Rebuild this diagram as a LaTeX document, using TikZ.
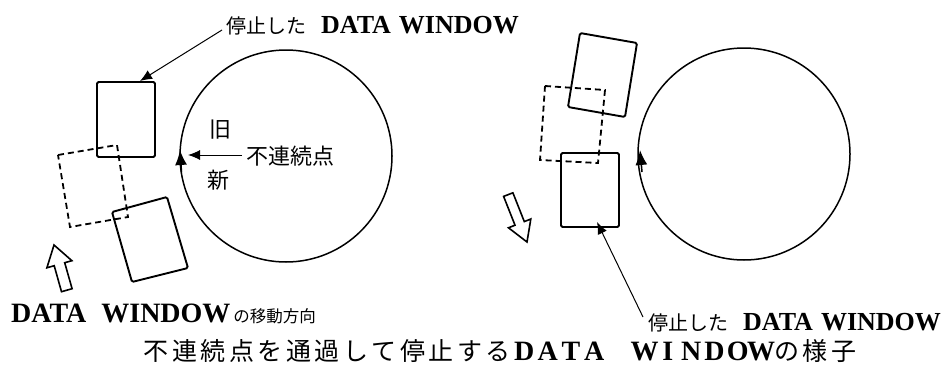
\documentclass[tikz,border=0pt]{standalone}
\usepackage{fontspec}
\setmainfont{Liberation Serif}
\newfontfamily\jp{Noto Sans CJK JP}
\usetikzlibrary{arrows.meta}
\tikzset{
  win/.style={draw=black, line width=1.9pt, rounded corners=1.5pt},
  winghost/.style={draw=black, line width=1.8pt, dash pattern=on 6pt off 4pt},
  track/.style={draw=black, line width=1.5pt},
  leader/.style={draw=black, line width=1pt, -{Latex[length=12pt,width=10pt]}},
  trackarrow/.style={draw=black, line width=1.5pt, -{Latex[length=15pt,width=12pt]}},
  dirarrow/.style={draw=black, line width=1.6pt, fill=white, line join=miter},
  lbl/.style={inner sep=0pt, anchor=base west},
  jpc/.style={inner sep=0pt},
}
\newcommand\capcell[1]{\makebox[28.5pt]{#1}}
\newcommand\latcell[1]{\makebox[23.3pt]{#1}}
\begin{document}
\begin{tikzpicture}[x=1pt,y=-1pt]
\useasboundingbox (0,0) rectangle (944,367);

% ---------- left panel ----------
\coordinate (cL) at (286,156);
\draw[track] (cL) circle[radius=106];
\coordinate (cLa) at (181.5,172);
\coordinate (cLb) at (180,150);
\draw[trackarrow] (cLa) -- (cLb);

% stopped window (upright)
\draw[win] (97,82) rectangle (155,157);
% ghost (dashed)
\draw[winghost] (58,155) -- (117,145) -- (128,217) -- (70,227) -- cycle;
% moving window (tilted)
\draw[win] (112,212) -- (167,197) -- (188,268) -- (132,282) -- cycle;

% direction arrow (up)
\draw[dirarrow] (54,245) -- (71.9,260.7) -- (64.7,262.7) -- (72.1,288.7)
  -- (61.5,291.7) -- (54.2,265.7) -- (46.9,267.8) -- cycle;

% labels
\node[lbl] (topL) at (226,33) {{\jp\fontsize{20}{20}\selectfont 停止した}\hspace{15pt}{\bfseries\fontsize{26}{26}\selectfont DATA\hspace{8pt}WINDOW}};
\coordinate (topLs) at (222,30);
\coordinate (topLt) at (140,81);
\draw[leader] (topLs) -- (topLt);

\node[jpc] (old) at (220,130) {\jp\fontsize{22}{22}\selectfont 旧};
\node[jpc] (new) at (218,180) {\jp\fontsize{22}{22}\selectfont 新};
\node[jpc, anchor=west] (disc) at (246,156) {\jp\fontsize{22}{22}\selectfont 不連続点};
\coordinate (discT) at (188,155);
\draw[leader] (disc.west) ++(-4,-1) -- (discT);

\node[lbl] (dirL) at (11,322) {{\bfseries\fontsize{28}{28}\selectfont DATA\hspace{15pt}WINDOW}\hspace{3pt}{\jp\fontsize{16.5}{16.5}\selectfont の移動方向}};

% ---------- right panel ----------
\coordinate (cR) at (744,154);
\draw[track] (cR) circle[radius=106];
\coordinate (cRa) at (642,172);
\coordinate (cRb) at (640,150);
\draw[trackarrow] (cRa) -- (cRb);

\draw[win] (580,33) -- (637,43) -- (625,117) -- (568,107) -- cycle;
\draw[winghost] (545,86) -- (605,90) -- (598,163) -- (540,160) -- cycle;
\draw[win] (561,153) rectangle (619,227);

\draw[dirarrow] (527,242) -- (530.8,219.0) -- (524.3,221.6) -- (512.9,192.8)
  -- (503.6,196.4) -- (515.0,225.2) -- (508.5,227.8) -- cycle;

\node[lbl] (botR) at (648,330) {{\jp\fontsize{20}{20}\selectfont 停止した}\hspace{15pt}{\bfseries\fontsize{26}{26}\selectfont DATA\hspace{8pt}WINDOW}};
\coordinate (botRs) at (643,317);
\coordinate (botRt) at (597,222);
\draw[leader] (botRs) -- (botRt);

% ---------- caption ----------
\node[lbl] (cap) at (142,360) {{\jp\fontsize{25}{25}\selectfont\capcell{不}\capcell{連}\capcell{続}\capcell{点}\capcell{を}\capcell{通}\capcell{過}\capcell{し}\capcell{て}\capcell{停}\capcell{止}\capcell{す}\capcell{る}}{\bfseries\fontsize{28}{28}\selectfont\latcell{D}\latcell{A}\latcell{T}\latcell{A}\hspace{27pt}\latcell{W}\latcell{I}\latcell{N}\latcell{D}\latcell{O}\latcell{W}}{\jp\fontsize{25}{25}\selectfont\capcell{の}\capcell{様}\capcell{子}}};
\end{tikzpicture}
\end{document}
